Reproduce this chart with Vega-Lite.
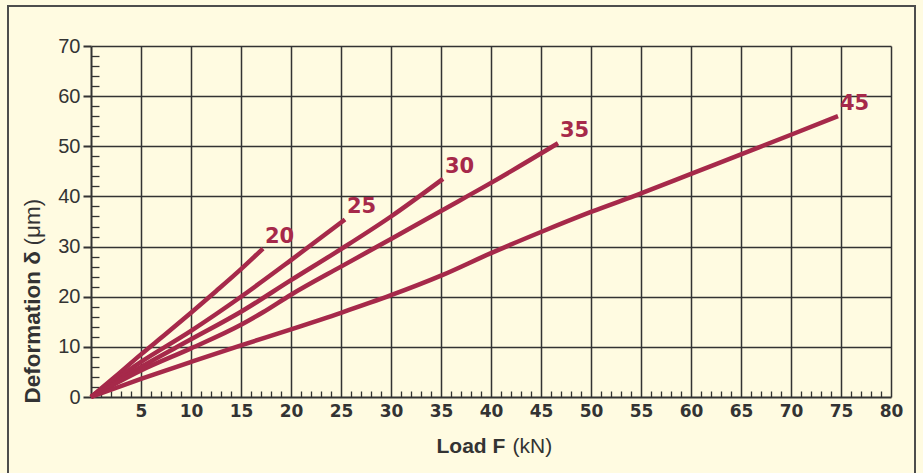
{
  "$schema": "https://vega.github.io/schema/vega-lite/v6.json",
  "autosize": "none",
  "padding": {"left": 8, "top": 6, "right": 8, "bottom": 0},
  "width": 907,
  "height": 467,
  "background": "#fffbe1",
  "config": {
    "view": {"stroke": "#4d4d4d", "strokeWidth": 2, "fill": "#fffbe1", "strokeDash": [1374, 907, 467, 100]}
  },
  "data": {
    "values": [
      {"s": "20", "F": 0, "d": 0},
      {"s": "20", "F": 2.5, "d": 4.2},
      {"s": "20", "F": 5, "d": 8.5},
      {"s": "20", "F": 7.5, "d": 12.6},
      {"s": "20", "F": 10, "d": 16.8},
      {"s": "20", "F": 12.5, "d": 21.1},
      {"s": "20", "F": 15, "d": 25.5},
      {"s": "20", "F": 17.2, "d": 29.6},
      {"s": "25", "F": 0, "d": 0},
      {"s": "25", "F": 5, "d": 7},
      {"s": "25", "F": 10, "d": 13.2},
      {"s": "25", "F": 15, "d": 20},
      {"s": "25", "F": 20, "d": 27.3},
      {"s": "25", "F": 25.4, "d": 35.4},
      {"s": "30", "F": 0, "d": 0},
      {"s": "30", "F": 5, "d": 6},
      {"s": "30", "F": 10, "d": 11.5},
      {"s": "30", "F": 15, "d": 17},
      {"s": "30", "F": 20, "d": 23.3},
      {"s": "30", "F": 25, "d": 29.5},
      {"s": "30", "F": 30, "d": 36},
      {"s": "30", "F": 35.2, "d": 43.5},
      {"s": "35", "F": 0, "d": 0},
      {"s": "35", "F": 5, "d": 5.3},
      {"s": "35", "F": 10, "d": 9.7},
      {"s": "35", "F": 15, "d": 14.4},
      {"s": "35", "F": 17.2, "d": 16.9},
      {"s": "35", "F": 20, "d": 20.4},
      {"s": "35", "F": 25, "d": 26},
      {"s": "35", "F": 30, "d": 31.5},
      {"s": "35", "F": 35, "d": 37.1},
      {"s": "35", "F": 40, "d": 42.7},
      {"s": "35", "F": 46.7, "d": 50.6},
      {"s": "45", "F": 0, "d": 0},
      {"s": "45", "F": 5, "d": 3.6},
      {"s": "45", "F": 10, "d": 7},
      {"s": "45", "F": 15, "d": 10.3},
      {"s": "45", "F": 20, "d": 13.5},
      {"s": "45", "F": 25, "d": 16.8},
      {"s": "45", "F": 30, "d": 20.3},
      {"s": "45", "F": 35, "d": 24.2},
      {"s": "45", "F": 40, "d": 28.7},
      {"s": "45", "F": 45, "d": 32.9},
      {"s": "45", "F": 50, "d": 36.9},
      {"s": "45", "F": 55, "d": 40.6},
      {"s": "45", "F": 60, "d": 44.5},
      {"s": "45", "F": 65, "d": 48.4},
      {"s": "45", "F": 70, "d": 52.3},
      {"s": "45", "F": 74.7, "d": 56}
    ]
  },
  "layer": [
    {
      "mark": {"type": "line", "color": "#a6294a", "strokeWidth": 4.5, "interpolate": "monotone", "strokeCap": "butt"},
      "encoding": {
        "x": {
          "field": "F", "type": "quantitative",
          "scale": {"domain": [0, 80], "range": [83, 883], "nice": false},
          "axis": {
            "orient": "top",
            "values": [5, 10, 15, 20, 25, 30, 35, 40, 45, 50, 55, 60, 65, 70, 75, 80],
            "grid": true, "gridColor": "#333333", "gridWidth": 1.5, "gridOpacity": 1,
            "domain": false, "ticks": false, "labels": false, "title": null
          }
        },
        "y": {
          "field": "d", "type": "quantitative",
          "scale": {"domain": [0, 70], "range": [391, 40], "nice": false},
          "axis": {
            "orient": "left",
            "values": [10, 20, 30, 40, 50, 60, 70],
            "grid": true, "gridColor": "#333333", "gridWidth": 1.5, "gridOpacity": 1,
            "domain": false, "ticks": false, "labels": false, "title": null
          }
        },
        "detail": {"field": "s"}
      }
    },
    {
      "transform": [
        {"joinaggregate": [{"op": "max", "field": "F", "as": "mF"}], "groupby": ["s"]},
        {"filter": "datum.F == datum.mF"}
      ],
      "mark": {"type": "text", "color": "#a6294a", "font": "DejaVu Sans", "fontWeight": "bold", "fontSize": 21, "align": "left", "baseline": "alphabetic", "dx": 2, "dy": -6},
      "encoding": {
        "x": {
          "field": "F", "type": "quantitative",
          "scale": {"domain": [0, 80], "range": [83, 883], "nice": false},
          "axis": {
            "orient": "bottom", "offset": -76,
            "values": [5, 10, 15, 20, 25, 30, 35, 40, 45, 50, 55, 60, 65, 70, 75, 80],
            "grid": false,
            "domain": true, "domainColor": "#333333", "domainWidth": 2,
            "ticks": false,
            "labelFont": "DejaVu Sans", "labelFontWeight": "bold", "labelFontSize": 17, "labelColor": "#333333",
            "labelPadding": 6, "labelFlush": false, "labelOverlap": false,
            "title": "Load F", "titleFont": "Liberation Sans", "titleFontSize": 21, "titleFontWeight": "bold", "titleColor": "#333333",
            "titleX": 428, "titleY": 55.7, "titleAlign": "left", "titleBaseline": "alphabetic"
          }
        },
        "y": {
          "field": "d", "type": "quantitative",
          "scale": {"domain": [0, 70], "range": [391, 40], "nice": false},
          "axis": {
            "orient": "left", "offset": -83,
            "values": [0, 10, 20, 30, 40, 50, 60, 70],
            "grid": false,
            "domain": true, "domainColor": "#333333", "domainWidth": 2,
            "ticks": true, "tickSize": 8, "tickWidth": 2, "tickColor": "#333333",
            "labelFont": "Liberation Sans", "labelFontSize": 20, "labelColor": "#333333",
            "labelPadding": 3, "labelFlush": false, "labelOverlap": false,
            "title": "Deformation δ", "titleFont": "Liberation Sans", "titleFontSize": 22.5, "titleFontWeight": "bold", "titleColor": "#333333",
            "titleAngle": 270, "titleX": -51.5, "titleY": 397, "titleAlign": "left", "titleBaseline": "alphabetic"
          }
        },
        "text": {"field": "s"}
      }
    },
    {
      "mark": {"type": "point", "opacity": 0},
      "encoding": {
        "x": {
          "field": "F", "type": "quantitative",
          "scale": {"domain": [0, 80], "range": [83, 883], "nice": false},
          "axis": {
            "orient": "bottom", "offset": -76,
            "values": [1, 2, 3, 4, 6, 7, 8, 9, 11, 12, 13, 14, 16, 17, 18, 19, 21, 22, 23, 24, 26, 27, 28, 29, 31, 32, 33, 34, 36, 37, 38, 39, 41, 42, 43, 44, 46, 47, 48, 49, 51, 52, 53, 54, 56, 57, 58, 59, 61, 62, 63, 64, 66, 67, 68, 69, 71, 72, 73, 74, 76, 77, 78, 79],
            "grid": false, "domain": false, "labels": false,
            "ticks": true, "tickSize": -6, "tickWidth": 1.3, "tickColor": "#333333",
            "title": "(kN)", "titleFont": "Liberation Sans", "titleFontSize": 21, "titleFontWeight": "normal", "titleColor": "#333333",
            "titleX": 504, "titleY": 55.7, "titleAlign": "left", "titleBaseline": "alphabetic"
          }
        },
        "y": {
          "field": "d", "type": "quantitative",
          "scale": {"domain": [0, 70], "range": [391, 40], "nice": false},
          "axis": {
            "orient": "left", "offset": -83,
            "values": [2, 4, 6, 8, 12, 14, 16, 18, 22, 24, 26, 28, 32, 34, 36, 38, 42, 44, 46, 48, 52, 54, 56, 58, 62, 64, 66, 68],
            "grid": false, "domain": false, "labels": false,
            "ticks": true, "tickSize": -8, "tickWidth": 1.3, "tickColor": "#333333",
            "title": "(μm)", "titleFont": "Liberation Sans", "titleFontSize": 22.5, "titleFontWeight": "normal", "titleColor": "#333333",
            "titleAngle": 270, "titleX": -51.5, "titleY": 239, "titleAlign": "left", "titleBaseline": "alphabetic"
          }
        }
      }
    }
  ],
  "resolve": {"axis": {"x": "independent", "y": "independent"}}
}
